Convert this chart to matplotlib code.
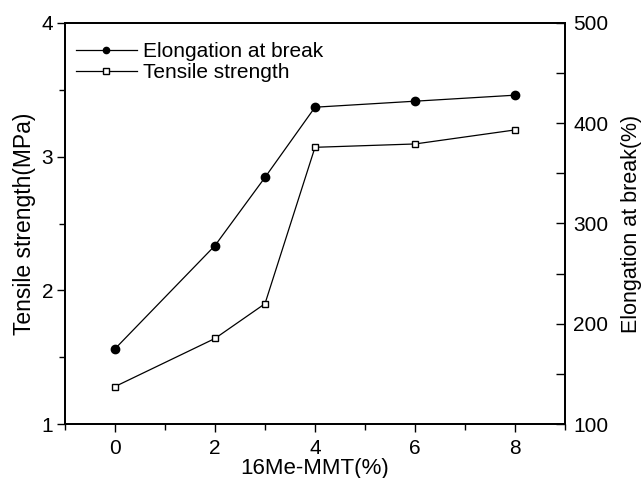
import matplotlib
matplotlib.use("Agg")
import matplotlib.pyplot as plt
from matplotlib.ticker import MultipleLocator

plt.rcParams['font.family'] = ['Liberation Sans', 'DejaVu Sans']

# data
mmt = [0, 2, 3, 4, 6, 8]
elongation = [175, 278, 346, 416, 422, 428]       # right axis, %
tensile = [1.28, 1.64, 1.90, 3.07, 3.095, 3.20]   # left axis, MPa

fig = plt.figure(figsize=(6.44, 4.78), dpi=100)
ax = fig.add_axes([65 / 644, 1 - 424 / 478, 500 / 644, 401 / 478])
ax2 = ax.twinx()

l1, = ax2.plot(mmt, elongation, color="black", lw=0.9, marker="o",
               ms=6, mfc="black", mec="black")
l2, = ax.plot(mmt, tensile, color="black", lw=0.9, marker="s",
              ms=5, mfc="white", mec="black", mew=1)

ax.set_xlim(-1, 9)
ax.set_ylim(1, 4)
ax2.set_ylim(100, 500)

ax.xaxis.set_major_locator(MultipleLocator(2))
ax.xaxis.set_minor_locator(MultipleLocator(1))
ax.yaxis.set_major_locator(MultipleLocator(1))
ax.yaxis.set_minor_locator(MultipleLocator(0.5))
ax2.yaxis.set_major_locator(MultipleLocator(100))
ax2.yaxis.set_minor_locator(MultipleLocator(50))

ax.tick_params(axis="both", which="major", direction="out", length=5.5,
               width=1, labelsize=15, top=False, pad=3)
ax.tick_params(axis="x", which="major", pad=5)
ax.tick_params(axis="both", which="minor", direction="out", length=4,
               width=1)
ax2.tick_params(axis="y", which="major", direction="in", length=6.5,
                width=1, labelsize=15, pad=6)
ax2.tick_params(axis="y", which="minor", direction="in", length=6.5,
                width=1)

for a in (ax, ax2):
    for s in a.spines.values():
        s.set_linewidth(1.3)

ax.set_xlabel("16Me-MMT(%)", fontsize=16, labelpad=0)
ax.set_ylabel("Tensile strength(MPa)", fontsize=16.5, labelpad=4)
ax2.set_ylabel("Elongation at break(%)", fontsize=15.5, labelpad=9)

ax.legend([l1, l2], ["Elongation at break", "Tensile strength"],
          loc="upper left", bbox_to_anchor=(0.01, 0.968), borderaxespad=0,
          borderpad=0.3, frameon=False, fontsize=15, handlelength=2.9,
          handletextpad=0.3, labelspacing=0.1, markerscale=0.75)

fig.savefig("out.png", dpi=100)
